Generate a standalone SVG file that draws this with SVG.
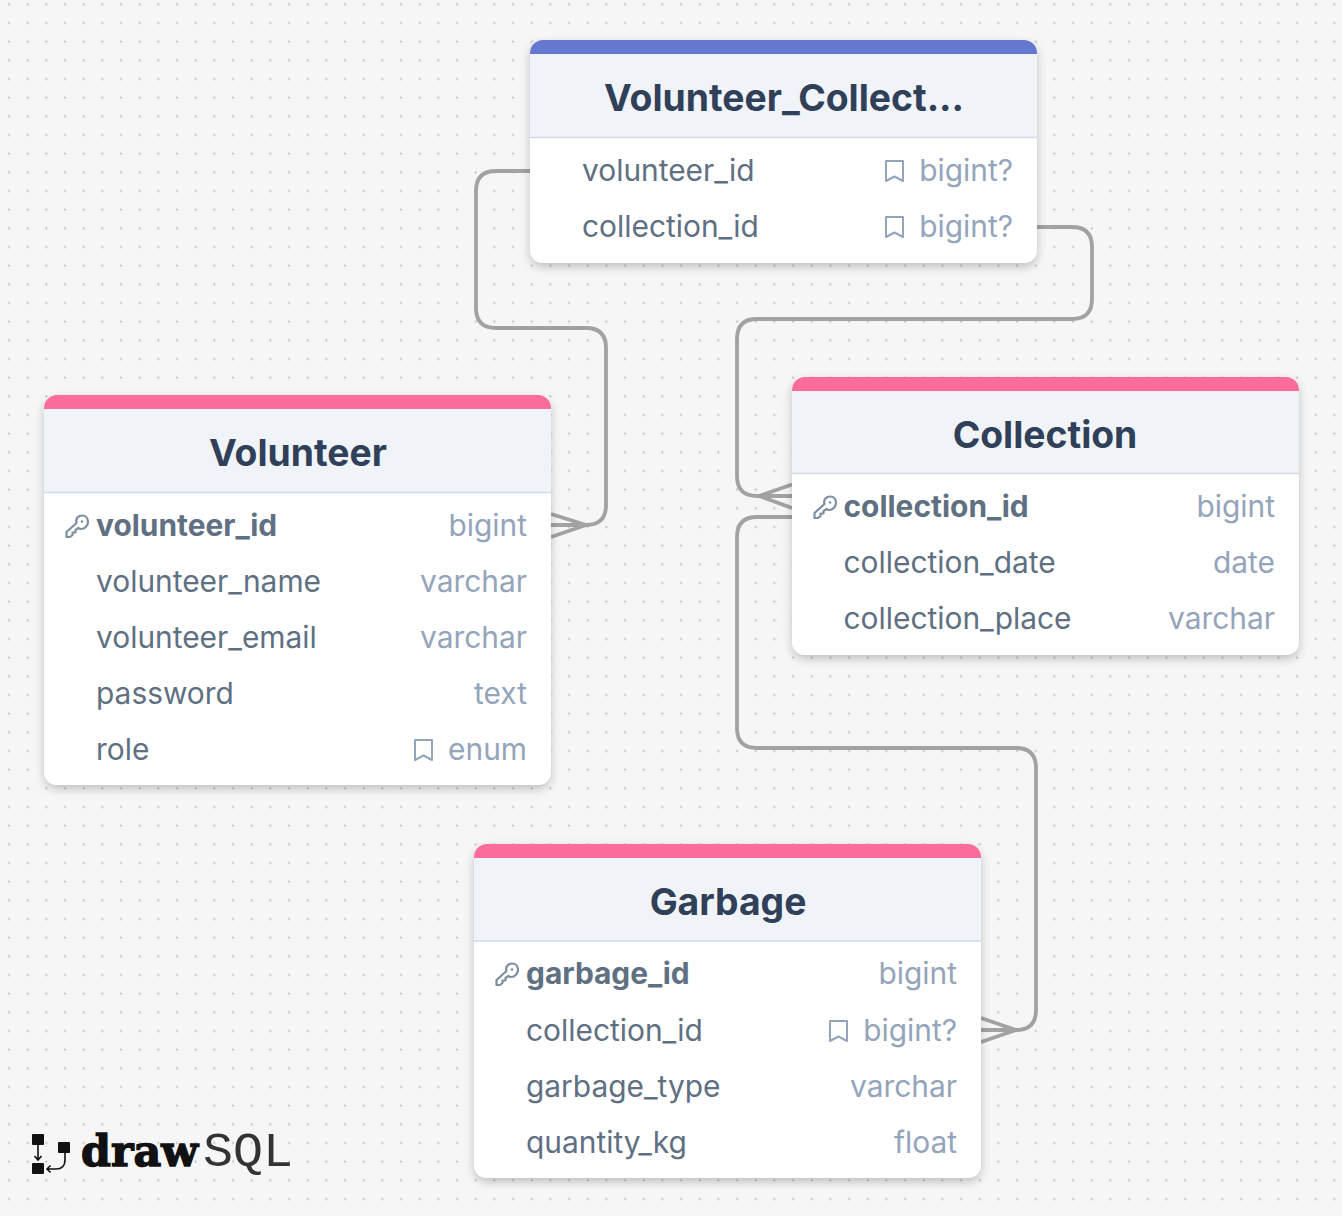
<svg xmlns="http://www.w3.org/2000/svg" xmlns:xlink="http://www.w3.org/1999/xlink" width="1342" height="1216" viewBox="0 0 1342 1216">
<style>
text{font-family:Inter,"Noto Sans","Liberation Sans",sans-serif}
.title{font-size:37.3px;font-weight:700;fill:#2f4058;text-anchor:middle}
.col{font-size:29.9px;fill:#5f7082}
.pk{font-weight:700}
.type{font-size:29.9px;fill:#94a4bb;text-anchor:end}
.conn{fill:none;stroke:#a2a2a2;stroke-width:3.8}
.icon{fill:none;stroke:#94a4bb;stroke-width:2;stroke-linejoin:round;stroke-linecap:round}
.kicon{fill:none;stroke:#7f8e9f;stroke-width:2.2;stroke-linejoin:round;stroke-linecap:round}
.body{fill:#fff}
.head{fill:#f0f4f9}
.rule{stroke:#cfdbe8;stroke-width:1.6}
.pink{fill:#f96c9b}
.blue{fill:#6578cf}
</style>
<defs>
<pattern id="dots" x="0" y="-5" width="18.667" height="18.667" patternUnits="userSpaceOnUse"><rect x="8.2" y="8.4" width="1.8" height="1.8" fill="#b4b4b4"/></pattern>
<filter id="sh" x="-10%" y="-10%" width="120%" height="125%"><feDropShadow dx="0" dy="4" stdDeviation="5" flood-color="#000" flood-opacity="0.22"/></filter>
<clipPath id="cv"><rect x="530" y="40" width="507" height="223" rx="13"/></clipPath>
<clipPath id="cc"><rect x="792" y="377" width="507" height="278" rx="13"/></clipPath>
<clipPath id="cl"><rect x="44" y="395" width="507" height="390" rx="13"/></clipPath>
<clipPath id="cg"><rect x="474" y="844" width="507" height="334" rx="13"/></clipPath>
<g id="bm"><path class="icon" d="M-8.500 -10H8.500V10L0 5.500L-8.500 10Z"/></g>
<g id="key"><path class="kicon" d="M-10.500 10.500V5.500L-0.500 -3.500C-2 -8.500 2 -11 5 -11C9 -11 11 -8 11 -4.500C11 -1 8 2.500 4 2.500Q2.500 2.500 1.500 1.500L-1.500 3.500V6H-4.500V8.500L-7 10.500Z"/><circle cx="5" cy="-5" r="1.300" fill="#7f8e9f" stroke="none"/></g>
</defs>
<rect width="1342" height="1216" fill="#f6f6f6"/>
<rect width="1342" height="1216" fill="url(#dots)"/>
<g id="connectors">
<path class="conn" d="M530 171H496Q476 171 476 191V308Q476 328 496 328H586Q606 328 606 348V505Q606 525 586 525H551M586 525L551 514M586 525L551 537"/>
<path class="conn" d="M1037 227H1072Q1092 227 1092 247V299Q1092 319 1072 319H757Q737 319 737 339V476Q737 496 757 496H792M759 496L792 484.500M759 496L792 508"/>
<path class="conn" d="M792 517H757Q737 517 737 537V728Q737 748 757 748H1016Q1036 748 1036 768V1010Q1036 1030 1016 1030H981M1016 1030L981 1018M1016 1030L981 1042"/>
</g>
<g id="node-volunteer-collection">
<rect x="530" y="40" width="507" height="223" rx="13" class="body" filter="url(#sh)"/>
<g clip-path="url(#cv)"><rect x="530" y="40" width="507" height="97" class="head"/><rect x="530" y="40" width="507" height="14" class="blue"/></g>
<line x1="530" x2="1037" y1="137.500" y2="137.500" class="rule"/>
<text x="784" y="111" class="title">Volunteer_Collect...</text>
<text x="582" y="180.500" class="col">volunteer_id</text><use xlink:href="#bm" href="#bm" x="894.500" y="171"/><text x="1013" y="180.500" class="type">bigint?</text>
<text x="582" y="236.500" class="col">collection_id</text><use xlink:href="#bm" href="#bm" x="894.500" y="227"/><text x="1013" y="236.500" class="type">bigint?</text>
</g>
<g id="node-volunteer">
<rect x="44" y="395" width="507" height="390" rx="13" class="body" filter="url(#sh)"/>
<g clip-path="url(#cl)"><rect x="44" y="395" width="507" height="97" class="head"/><rect x="44" y="395" width="507" height="14" class="pink"/></g>
<line x1="44" x2="551" y1="492.500" y2="492.500" class="rule"/>
<text x="298" y="466" class="title">Volunteer</text>
<use xlink:href="#key" href="#key" x="77" y="526.500"/><text x="96" y="535.500" class="col pk">volunteer_id</text><text x="527" y="535.500" class="type">bigint</text>
<text x="96" y="591.500" class="col">volunteer_name</text><text x="527" y="591.500" class="type">varchar</text>
<text x="96" y="647.500" class="col">volunteer_email</text><text x="527" y="647.500" class="type">varchar</text>
<text x="96" y="703.500" class="col">password</text><text x="527" y="703.500" class="type">text</text>
<text x="96" y="759.500" class="col">role</text><use xlink:href="#bm" href="#bm" x="423.500" y="750"/><text x="527" y="759.500" class="type">enum</text>
</g>
<g id="node-collection">
<rect x="792" y="377" width="507" height="278" rx="13" class="body" filter="url(#sh)"/>
<g clip-path="url(#cc)"><rect x="792" y="377" width="507" height="96" class="head"/><rect x="792" y="377" width="507" height="14" class="pink"/></g>
<line x1="792" x2="1299" y1="473.500" y2="473.500" class="rule"/>
<text x="1045" y="448" class="title">Collection</text>
<use xlink:href="#key" href="#key" x="825" y="507.500"/><text x="843.500" y="516.500" class="col pk">collection_id</text><text x="1275" y="516.500" class="type">bigint</text>
<text x="843.500" y="572.500" class="col">collection_date</text><text x="1275" y="572.500" class="type">date</text>
<text x="843.500" y="628.500" class="col">collection_place</text><text x="1275" y="628.500" class="type">varchar</text>
</g>
<g id="node-garbage">
<rect x="474" y="844" width="507" height="334" rx="13" class="body" filter="url(#sh)"/>
<g clip-path="url(#cg)"><rect x="474" y="844" width="507" height="97" class="head"/><rect x="474" y="844" width="507" height="14" class="pink"/></g>
<line x1="474" x2="981" y1="941" y2="941" class="rule"/>
<text x="728" y="915" class="title">Garbage</text>
<use xlink:href="#key" href="#key" x="507" y="974.500"/><text x="526" y="983.500" class="col pk">garbage_id</text><text x="957" y="983.500" class="type">bigint</text>
<text x="526" y="1040.500" class="col">collection_id</text><use xlink:href="#bm" href="#bm" x="838.500" y="1031"/><text x="957" y="1040.500" class="type">bigint?</text>
<text x="526" y="1096.500" class="col">garbage_type</text><text x="957" y="1096.500" class="type">varchar</text>
<text x="526" y="1152.500" class="col">quantity_kg</text><text x="957" y="1152.500" class="type">float</text>
</g>
<g id="logo">
<rect x="32" y="1134" width="12" height="11" rx="1" fill="#111"/>
<rect x="58" y="1142" width="12" height="11" rx="1" fill="#111"/>
<rect x="32" y="1163" width="12" height="11" rx="1" fill="#111"/>
<path d="M38 1145V1160M34.500 1156L38 1160L41.500 1156M65 1153V1160Q65 1169 56 1169H47M50.500 1165.500L47 1169L50.500 1172.500" fill="none" stroke="#111" stroke-width="1.600"/>
<text x="81" y="1166" textLength="117" lengthAdjust="spacingAndGlyphs" style="font-family:'DejaVu Serif',serif;font-weight:700;font-size:43px;stroke:#111;stroke-width:1.400" fill="#111">draw</text>
<text x="203" y="1166" textLength="90" lengthAdjust="spacingAndGlyphs" style="font-family:'Liberation Mono',monospace;font-size:48px" fill="#333">SQL</text>
</g>
</svg>
